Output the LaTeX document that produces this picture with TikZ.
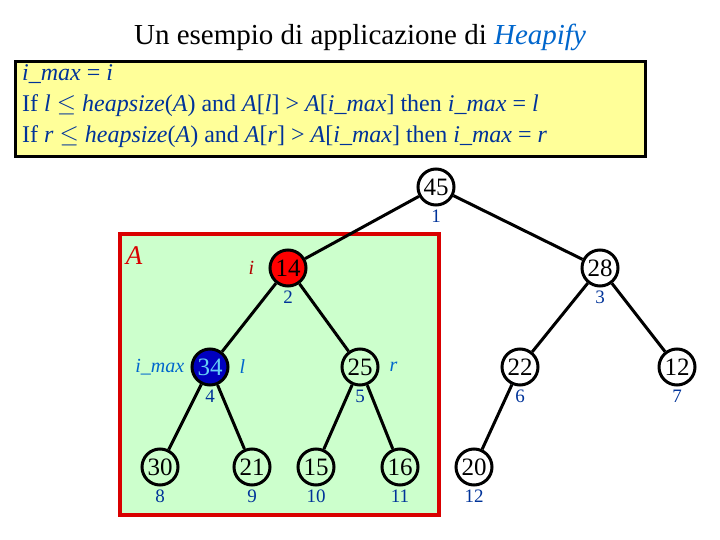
\documentclass[tikz,border=0pt]{standalone}
\usepackage{fontspec}
\setmainfont{Liberation Serif}
\usetikzlibrary{positioning}
\definecolor{boxyellow}{RGB}{255,255,153}
\definecolor{boxgreen}{RGB}{204,255,204}
\definecolor{idxblue}{RGB}{0,51,153}
\definecolor{lblue}{RGB}{0,102,204}
\begin{document}
\begin{tikzpicture}[x=1pt, y=-1pt]
        \tikzstyle{every node} = [font=\fontsize{25}{27}\selectfont]
        \tikzstyle{nu}  = [draw, circle, line width=3pt, inner sep=0pt, minimum size=36pt]
        \tikzstyle{idx} = [text=idxblue, font=\fontsize{19}{20}\selectfont, inner sep=0pt]
        \tikzstyle{lab} = [text=lblue, font=\fontsize{20}{22}\selectfont\itshape, inner sep=0pt]
        \tikzstyle{arco} = [line width=3pt]

        \useasboundingbox (0,0) rectangle (720,540);

        \node[font=\fontsize{29}{31}\selectfont] (titolo) at (360,37) {Un esempio di applicazione di \textcolor{lblue}{\itshape Heapify}};

        \node[draw, line width=3pt, fill=boxyellow, minimum width=630pt, minimum height=95pt,
              inner sep=0pt] (codice) at (330,109.5) {};
        \node[anchor=north west, text=idxblue, align=left, inner sep=0pt,
              font=\fontsize{24}{31}\selectfont] at (22,64)
            {\textit{i\_max} = \textit{i}\\
             If \textit{l} $\le$ \textit{heapsize}(\textit{A}) and \textit{A}[\textit{l}] > \textit{A}[\textit{i\_max}] then \textit{i\_max} = \textit{l}\\
             If \textit{r} $\le$ \textit{heapsize}(\textit{A}) and \textit{A}[\textit{r}] > \textit{A}[\textit{i\_max}] then \textit{i\_max} = \textit{r}};

        \draw[red!85!black, line width=3.5pt, fill=boxgreen] (120,234) rectangle (439,515);
        \node[text=red!85!black, font=\fontsize{27}{29}\selectfont\itshape] at (134,256) {A};

        % nodi
        \node[nu, fill=white] (n1) at (436,187) {45};
        \node[nu, fill=red] (n2) at (288,268) {14};
        \node[nu, fill=white] (n3) at (600,268) {28};
        \node[nu, fill=blue!75!black, text=cyan!60] (n4) at (210,367) {34};
        \node[nu] (n5) at (360,367) {25};
        \node[nu, fill=white] (n6) at (520,367) {22};
        \node[nu, fill=white] (n7) at (677,367) {12};
        \node[nu] (n8) at (160,467) {30};
        \node[nu] (n9) at (252,467) {21};
        \node[nu] (n10) at (316,467) {15};
        \node[nu] (n11) at (400,467) {16};
        \node[nu, fill=white] (n12) at (474,467) {20};

        \foreach \n in {1,...,12}
            \node[idx, below=23pt of n\n.center] (i\n) {\n};

        \foreach \a/\b in {1/2,1/3,2/4,2/5,3/6,3/7,4/8,4/9,5/10,5/11,6/12}
            \draw[arco] (n\a) -- (n\b);

        \node[lab, text=red!70!black, left=14pt of n2] (li) {i};
        \node[lab, left=6pt of n4] (limax) {i\_max};
        \node[lab, right=10pt of n4] (ll) {l};
        \node[lab, right=10pt of n5] (lr) {r};
\end{tikzpicture}
\end{document}
